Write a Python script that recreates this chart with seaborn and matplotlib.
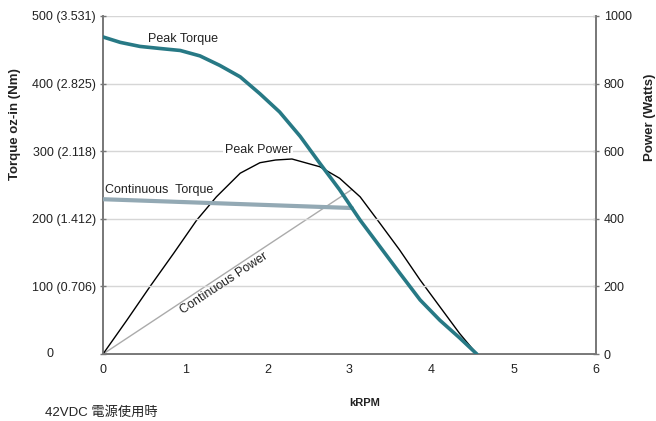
"""
Motor torque / power curve (42VDC)
"""

import numpy as np
import pandas as pd
import matplotlib.pyplot as plt
import seaborn as sns

sns.set_style("white")
plt.rcParams["font.family"] = ["Liberation Sans", "Noto Sans CJK JP", "DejaVu Sans"]

# ---- data ----
torque_krpm = [0, 0.21, 0.45, 0.69, 0.94, 1.18, 1.42, 1.67, 1.91, 2.15,
               2.40, 2.64, 2.88, 3.13, 3.37, 3.61, 3.86, 4.10, 4.34, 4.55]
peak_torque = [469, 461, 455, 452, 449, 441, 427, 410, 385, 358,
               322, 282, 243, 198, 159, 120, 80, 50, 24, 0]

power_krpm = [0, 0.29, 0.57, 0.86, 1.14, 1.38, 1.67, 1.91, 2.10, 2.30,
              2.64, 2.88, 3.13, 3.37, 3.61, 3.86, 4.10, 4.34, 4.55]
peak_power = [0, 100, 199, 298, 396, 465, 535, 566, 574, 577,
              554, 520, 465, 387, 308, 219, 140, 61, 0]

cont_krpm = [0, 3.03]
cont_torque = [229, 216]
cont_power = [0, 487]

torque_ticks = [0, 100, 200, 300, 400, 500]
torque_labels = ["0", "100 (0.706)", "200 (1.412)", "300 (2.118)",
                 "400 (2.825)", "500 (3.531)"]
power_ticks = [0, 200, 400, 600, 800, 1000]
x_ticks = [0, 1, 2, 3, 4, 5, 6]

TEAL = "#277985"
CT_COLOR = "#93a9b4"
CP_COLOR = "#ababab"
SPINE = "#777777"
GRID = "#d6d6d6"
TEXT = "#222222"

fig = plt.figure(figsize=(6.56, 4.21), dpi=100)
ax = fig.add_axes([0.157, 0.159, 0.7515, 0.803])
ax2 = ax.twinx()

########################################################

ax.set_xlim(0, 6)
ax.set_ylim(0, 500)
ax2.set_ylim(0, 1000)

ax.yaxis.grid(True, color=GRID, linewidth=1)
ax.set_axisbelow(True)

sns.lineplot(x=cont_krpm, y=cont_torque, ax=ax, color=CT_COLOR,
             linewidth=3, zorder=3)
sns.lineplot(x=torque_krpm, y=peak_torque, ax=ax, color=TEAL,
             linewidth=2.6, zorder=4)

sns.lineplot(x=cont_krpm, y=cont_power, ax=ax2, color=CP_COLOR,
             linewidth=1, zorder=2)
sns.lineplot(x=power_krpm, y=peak_power, ax=ax2, color="black",
             linewidth=1, zorder=3)

ax.set_zorder(ax2.get_zorder() + 1)
ax.patch.set_visible(False)

########################################################

for a in (ax, ax2):
    a.spines["top"].set_visible(False)
    for s in ("left", "right", "bottom"):
        a.spines[s].set_color(SPINE)
        a.spines[s].set_linewidth(1.2)

ax.set_xticks(x_ticks)
ax.set_xticklabels([str(t) for t in x_ticks])
ax.set_yticks(torque_ticks)
ax.set_yticklabels(["" if t == "0" else t for t in torque_labels])
ax2.set_yticks(power_ticks)
ax2.set_yticklabels([str(t) for t in power_ticks])

ax.tick_params(axis="both", direction="inout", length=4, width=1,
               color=SPINE, labelsize=9, labelcolor=TEXT)
ax.tick_params(axis="y", pad=3)
ax.tick_params(axis="x", pad=5)
ax2.tick_params(axis="y", direction="inout", length=5, width=1,
                color=SPINE, labelsize=9, labelcolor=TEXT, pad=3)

# the zero on the torque axis sits apart from the other labels
ax.text(-0.1075, 0, torque_labels[0], transform=ax.get_yaxis_transform(),
        ha="center", va="center", fontsize=9, color=TEXT)

ax.set_ylabel("")
ax2.set_ylabel("")
ax.set_xlabel("")

fig.text(15 / 656, 1 - 124 / 421, "Torque oz-in (Nm)", rotation=90,
         ha="center", va="center", fontsize=9.5, fontweight="bold",
         color=TEXT)
fig.text(650 / 656, 1 - 117 / 421, "Power (Watts)", rotation=90,
         ha="center", va="center", fontsize=9.5, fontweight="bold",
         color=TEXT)
fig.text(365 / 656, 1 - 403 / 421, "kRPM", ha="center", va="center",
         fontsize=8, fontweight="bold", color=TEXT)
fig.text(45 / 656, 1 - 412 / 421, "42VDC 電源使用時", ha="left",
         va="center", fontsize=9.5, color=TEXT)

########################################################

ax.text(0.97, 466, "Peak Torque", ha="center", va="center",
        fontsize=9, color=TEXT, zorder=5)
ax.text(1.89, 302, "Peak Power", ha="center", va="center",
        fontsize=9, color=TEXT, zorder=5,
        bbox=dict(facecolor="white", edgecolor="none", pad=1))
ax.text(0.02, 243, "Continuous  Torque", ha="left", va="center",
        fontsize=9, color=TEXT, zorder=5)
ax.text(1.47, 105, "Continuous Power", ha="center", va="center",
        rotation=33.4, rotation_mode="anchor",
        fontsize=9, color=TEXT, zorder=5)

fig.savefig("out.png", dpi=100)
plt.close(fig)
